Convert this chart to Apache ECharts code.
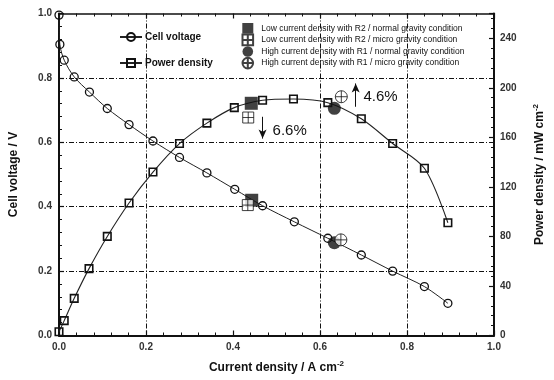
<!DOCTYPE html>
<html>
<head>
<meta charset="utf-8">
<script src="https://cdn.jsdelivr.net/npm/echarts@6/dist/echarts.min.js"></script>
<style>html,body{margin:0;padding:0;background:#fff}#c{width:554px;height:380px}</style>
</head>
<body>
<div id="c"></div>
<script>
// ---- data ----
const voltX = [0, 0.002, 0.012, 0.035, 0.07, 0.111, 0.161, 0.216, 0.277, 0.34, 0.404, 0.468, 0.541, 0.618, 0.695, 0.767, 0.84, 0.894];
const voltY = [0.995, 0.904, 0.855, 0.803, 0.756, 0.705, 0.655, 0.604, 0.553, 0.505, 0.454, 0.403, 0.353, 0.302, 0.25, 0.2, 0.152, 0.1];
const powerX = [0, 0.012, 0.035, 0.069, 0.111, 0.161, 0.216, 0.277, 0.34, 0.403, 0.468, 0.539, 0.618, 0.695, 0.767, 0.84, 0.894];
const powerY = [3, 12, 30, 54, 80, 107, 132, 155, 171.5, 184, 190, 191, 188, 175, 155, 135, 91];

const markerNames = [
  'Low current density with R2 / normal gravity condition',
  'Low current density with R2 / micro gravity condition',
  'High current density with R1 / normal gravity condition',
  'High current density with R1 / micro gravity condition'
];
const markerVolt = [[0.443, 0.420], [0.434, 0.405], [0.633, 0.288], [0.648, 0.297]];
const markerPower = [[0.442, 187.5], [0.435, 176], [0.633, 183.4], [0.649, 192.8]];

const arrowDown = { x: 0.468, from: 176.6, to: 159 };
const arrowUp = { x: 0.682, from: 184.7, to: 203.5 };
const noteDown = { x: 0.491, y: 165.5, text: '6.6%' };
const noteUp = { x: 0.700, y: 192.5, text: '4.6%' };

const xTicks = { min: 0, max: 1, interval: 0.2 };
const vTicks = { min: 0, max: 1, interval: 0.2 };
const pTicks = { min: 0, max: 260, interval: 40 };

// ---- chart ----
const FONT = 'Liberation Sans, Arial, sans-serif';
const zip = (a, b) => a.map((v, i) => [v, b[i]]);
const T = 'rgba(0,0,0,0)';
const gridDash = [5, 2, 1, 2];

const symbols = [
  'rect',
  'path://M0,0H10V10H0ZM5,0V10M0,5H10',
  'circle',
  'path://M10,5A5,5 0 1 1 0,5A5,5 0 1 1 10,5ZM5,0V10M0,5H10'
];
const filled = [true, false, true, false];
const sizes = [13, 11, 13, 12];

function markerSeries(i, yIdx, pt) {
  return {
    name: markerNames[i], type: 'scatter', xAxisIndex: 0, yAxisIndex: yIdx,
    data: [pt], symbol: symbols[i], symbolSize: sizes[i], z: 5,
    itemStyle: filled[i] ? { color: '#111', borderColor: '#111', borderWidth: 0 }
                         : { color: '#fff', borderColor: '#111', borderWidth: 1 }
  };
}

const series = [
  {
    name: 'Cell voltage', type: 'line', xAxisIndex: 0, yAxisIndex: 0,
    data: zip(voltX, voltY), smooth: 0.3, symbol: 'circle', symbolSize: 8,
    lineStyle: { color: '#222', width: 1 },
    itemStyle: { color: T, borderColor: '#111', borderWidth: 1.3 }
  },
  {
    name: 'Power density', type: 'line', xAxisIndex: 0, yAxisIndex: 1,
    data: zip(powerX, powerY), smooth: 0.3, symbol: 'rect', symbolSize: 7.5,
    lineStyle: { color: '#222', width: 1.1 },
    itemStyle: { color: T, borderColor: '#111', borderWidth: 1.6 },
    markLine: {
      silent: true, symbol: ['none', 'arrow'], symbolSize: [6, 9],
      label: { show: false },
      lineStyle: { color: '#111', width: 1, type: 'solid' },
      data: [
        [{ coord: [arrowDown.x, arrowDown.from] }, { coord: [arrowDown.x, arrowDown.to] }],
        [{ coord: [arrowUp.x, arrowUp.from] }, { coord: [arrowUp.x, arrowUp.to] }]
      ]
    },
    markPoint: {
      silent: true, symbol: 'circle', symbolSize: 0,
      label: { show: true, position: 'right', distance: 0, color: '#111', fontSize: 15, fontFamily: FONT,
        formatter: p => p.name },
      data: [
        { name: noteDown.text, coord: [noteDown.x, noteDown.y] },
        { name: noteUp.text, coord: [noteUp.x, noteUp.y] }
      ]
    }
  }
];
for (let i = 0; i < 4; i++) series.push(markerSeries(i, 0, markerVolt[i]));
for (let i = 0; i < 4; i++) series.push(markerSeries(i, 1, markerPower[i]));

const labelStyle = { color: '#333', fontSize: 10, fontWeight: 'bold', fontFamily: FONT };
const nameStyle = { color: '#111', fontSize: 12, fontWeight: 'bold', fontFamily: FONT,
  rich: { sup: { fontSize: 8, fontWeight: 'bold', verticalAlign: 'top', padding: [0, 0, 8, 0], color: '#111' } } };

const chart = echarts.init(document.getElementById('c'), null, { renderer: 'canvas' });
chart.setOption({
  animation: false,
  backgroundColor: '#fff',
  grid: { left: 57.5, right: 60, top: 13.5, bottom: 44.5, containLabel: false },
  legend: [
    {
      data: ['Cell voltage', 'Power density'], orient: 'vertical', left: 119, top: 32,
      itemWidth: 22, itemHeight: 10, itemGap: 16, padding: 0,
      textStyle: { color: '#111', fontSize: 10, fontWeight: 'bold', fontFamily: FONT, padding: [0, 0, 0, -2] },
      selectedMode: false
    },
    {
      data: markerNames, orient: 'vertical', left: 241.5, top: 23,
      itemWidth: 11, itemHeight: 10.6, itemGap: 0, padding: 0,
      textStyle: { color: '#111', fontSize: 8.5, fontFamily: FONT, padding: [0, 0, 0, 3] },
      selectedMode: false
    }
  ],
  xAxis: [
    {
      type: 'value', position: 'bottom', min: xTicks.min, max: xTicks.max, interval: xTicks.interval,
      name: 'Current density / A cm{sup|-2}', nameLocation: 'middle', nameGap: 24, nameTextStyle: nameStyle,
      axisLine: { show: true, onZero: false, lineStyle: { color: '#111', width: 2 } },
      axisTick: { show: true, inside: true, length: 5, lineStyle: { color: '#111', width: 1.2 } },
      minorTick: { show: true, splitNumber: 5, length: 3, lineStyle: { color: '#111', width: 1 } },
      axisLabel: Object.assign({ margin: 7, formatter: v => v.toFixed(1) }, labelStyle),
      splitLine: { show: true, lineStyle: { color: [T, '#111', T, '#111', '#111', T], width: 1, type: gridDash } }
    },
    {
      type: 'value', position: 'top', min: xTicks.min, max: xTicks.max, interval: xTicks.interval,
      axisLine: { show: true, onZero: false, lineStyle: { color: '#111', width: 1.5 } },
      axisTick: { show: true, inside: true, length: 5, lineStyle: { color: '#111', width: 1.2 } },
      minorTick: { show: true, splitNumber: 5, length: 3, lineStyle: { color: '#111', width: 1 } },
      axisLabel: { show: false }, splitLine: { show: false }
    }
  ],
  yAxis: [
    {
      type: 'value', position: 'left', min: vTicks.min, max: vTicks.max, interval: vTicks.interval,
      name: 'Cell voltage / V', nameLocation: 'middle', nameGap: 39, nameRotate: 90, nameTextStyle: nameStyle,
      axisLine: { show: true, onZero: false, lineStyle: { color: '#111', width: 2 } },
      axisTick: { show: true, inside: true, length: 5, lineStyle: { color: '#111', width: 1.2 } },
      minorTick: { show: true, splitNumber: 5, length: 3, lineStyle: { color: '#111', width: 1 } },
      axisLabel: Object.assign({ margin: 7, formatter: v => v.toFixed(1) }, labelStyle),
      splitLine: { show: true, lineStyle: { color: [T, '#111', '#111', '#111', '#111', T], width: 1, type: gridDash } }
    },
    {
      type: 'value', position: 'right', min: pTicks.min, max: pTicks.max, interval: pTicks.interval,
      name: 'Power density / mW cm{sup|-2}', nameLocation: 'middle', nameGap: 38, nameRotate: 90, nameTextStyle: nameStyle,
      axisLine: { show: true, onZero: false, lineStyle: { color: '#111', width: 2 } },
      axisTick: { show: true, inside: true, length: 5, lineStyle: { color: '#111', width: 1.2 } },
      minorTick: { show: true, splitNumber: 5, length: 3, lineStyle: { color: '#111', width: 1 } },
      axisLabel: Object.assign({ margin: 6, showMaxLabel: false }, labelStyle),
      splitLine: { show: false }
    }
  ],
  series: series
});
</script>
</body>
</html>
